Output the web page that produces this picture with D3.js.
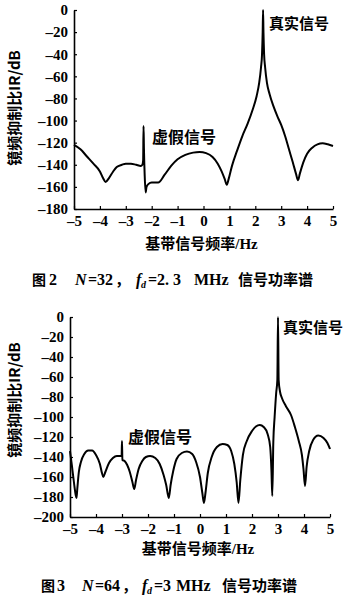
<!DOCTYPE html>
<html><head><meta charset="utf-8">
<script src="https://cdn.jsdelivr.net/npm/d3@7"></script>
<style>body{margin:0;background:#fff}svg{display:block}</style>
</head><body>
<script>
const xTicks = [-5,-4,-3,-2,-1,0,1,2,3,4,5];
const yTicks1 = [-180,-160,-140,-120,-100,-80,-60,-40,-20,0];
const yTicks2 = [-200,-180,-160,-140,-120,-100,-80,-60,-40,-20,0];

const freq1 = [-5,-4.75,-4.5,-4.25,-4.0,-3.88,-3.78,-3.65,-3.5,-3.35,-3.15,-3.0,-2.8,-2.6,-2.42,-2.36,-2.33,-2.315,-2.30,-2.27,-2.235,-2.2,-2.13,-2.0,-1.75,-1.5,-1.25,-1.0,-0.7,-0.4,-0.15,0.1,0.35,0.55,0.7,0.82,0.9,0.97,1.1,1.3,1.5,1.7,1.9,2.05,2.15,2.22,2.26,2.285,2.3,2.315,2.34,2.38,2.45,2.55,2.7,2.85,3.0,3.15,3.3,3.45,3.57,3.65,3.72,3.85,4.0,4.2,4.4,4.6,4.8,5.0];
const power1 = [-122,-126,-132.5,-139,-146,-152,-155.5,-152,-146.5,-142,-140,-139,-139,-140,-141,-140,-136,-105,-125,-150,-165,-160,-157.5,-156,-156,-149,-141,-135,-131,-129,-128.5,-129.5,-133,-139,-146,-153,-158,-153,-141,-127,-114,-103,-90,-78,-66,-52,-40,-20,0,-20,-40,-52,-66,-76,-87,-96,-104,-114,-126,-138,-148,-154,-148,-138,-130,-124.5,-121.5,-120.5,-121.5,-123];

const freq2 = [-5,-4.93,-4.85,-4.78,-4.75,-4.72,-4.66,-4.58,-4.45,-4.3,-4.15,-4.0,-3.85,-3.77,-3.72,-3.64,-3.5,-3.35,-3.2,-3.05,-3.015,-3.0,-2.985,-2.9,-2.8,-2.7,-2.6,-2.53,-2.46,-2.36,-2.22,-2.08,-1.92,-1.72,-1.55,-1.4,-1.3,-1.2,-1.13,-1.03,-0.9,-0.7,-0.5,-0.3,-0.15,0.0,0.09,0.15,0.21,0.3,0.45,0.65,0.87,1.05,1.2,1.32,1.41,1.48,1.55,1.65,1.8,2.0,2.15,2.3,2.45,2.6,2.7,2.75,2.78,2.82,2.87,2.93,2.975,3.0,3.025,3.08,3.15,3.3,3.5,3.65,3.8,3.92,3.98,4.04,4.1,4.2,4.35,4.55,4.75,4.9,5.0];
const power2 = [-134,-148,-165,-178,-181,-172,-155,-145,-137,-133.5,-133.5,-138,-147,-156,-160,-155,-146,-141,-139,-139,-139,-124,-143,-144,-148,-155,-165,-172,-163,-152,-144,-140,-139,-141,-147,-158,-168,-181,-168,-154,-142,-136,-134.5,-137,-145,-160,-176,-186,-176,-156,-140,-130,-127,-128,-134,-147,-165,-186,-163,-138,-124,-114,-109.5,-108,-110,-117,-130,-155,-179,-125,-100,-76,-63,0,-63,-75,-81,-89,-98,-110,-124,-138,-152,-169,-150,-134,-123,-118.5,-121,-126,-132];

const W = 350, H = 600;
const svg = d3.select("body").append("svg").attr("width", W).attr("height", H);
const serif = "'Liberation Serif','Times New Roman',serif";
const cjk = "'Noto Sans CJK SC','Noto Sans CJK JP',sans-serif";
const dash = d => d < 0 ? "\u2013" + Math.abs(d) : String(d);

function chart(cfg) {
  const x = d3.scaleLinear().domain([-5, 5]).range([cfg.x0, cfg.x1]);
  const y = d3.scaleLinear().domain([cfg.yMin, 0]).range([cfg.y0, cfg.y1]);
  const g = svg.append("g");

  const xa = g.append("g").attr("transform", `translate(0,${cfg.y0})`)
    .call(d3.axisBottom(x).tickValues(xTicks).tickSizeInner(-3).tickSizeOuter(0).tickPadding(6).tickFormat(dash));
  const ya = g.append("g").attr("transform", `translate(${cfg.x0},0)`)
    .call(d3.axisLeft(y).tickValues(cfg.yTicks).tickSizeInner(-3).tickSizeOuter(0).tickPadding(6).tickFormat(dash));
  [xa, ya].forEach(a => {
    a.select(".domain").attr("stroke", "#000").attr("stroke-width", 1.6);
    a.selectAll(".tick line").attr("stroke", "#000").attr("stroke-width", 1.2);
    a.selectAll("text").attr("fill", "#000").style("font-family", serif)
      .style("font-size", "15px").style("font-weight", "bold");
  });

  const pts = cfg.f.map((f, i) => [f, cfg.p[i]]);
  g.append("path").datum(pts)
    .attr("d", d3.line().x(d => x(d[0])).y(d => y(d[1])).curve(d3.curveMonotoneX))
    .attr("fill", "none").attr("stroke", "#000").attr("stroke-width", 2).attr("stroke-linejoin", "round");

  g.append("text").attr("x", cfg.realX).attr("y", cfg.realY).text("真实信号")
    .style("font-family", cjk).style("font-size", "15px").style("font-weight", "bold");
  g.append("text").attr("x", cfg.fakeX).attr("y", cfg.fakeY).text("虚假信号")
    .style("font-family", cjk).style("font-size", "16px").style("font-weight", "bold");

  const xt = g.append("text").attr("x", (cfg.x0 + cfg.x1) / 2 - 2).attr("y", cfg.xtY).attr("text-anchor", "middle")
    .style("font-family", cjk).style("font-size", "15px").style("font-weight", "bold");
  xt.append("tspan").text("基带信号频率");
  xt.append("tspan").style("font-family", serif).text("/Hz");
  g.append("text").attr("transform", `translate(20,${cfg.ytC}) rotate(-90)`).attr("text-anchor", "middle")
    .style("font-family", cjk).style("font-size", "15px").style("font-weight", "bold")
    .text("镜频抑制比IR/dB");

  const c = cfg.cap;
  const cap = g.append("g").style("font-weight", "bold");
  const t = (xp, txt, fam, size, italic) => cap.append("text").attr("x", xp).attr("y", cfg.capY)
    .style("font-family", fam).style("font-size", size + "px").style("font-style", italic ? "italic" : "normal").text(txt);
  t(c[0], "图", cjk, 14);
  t(c[1], String(cfg.fig), serif, 16);
  t(c[2], "N", serif, 16, true);
  t(c[3], "=" + cfg.n, serif, 16);
  t(c[3] + 27, "，", cjk, 15);
  t(c[4], "f", serif, 16, true);
  cap.append("text").attr("x", c[4] + 5).attr("y", cfg.capY + 3).style("font-family", serif)
    .style("font-size", "10px").style("font-style", "italic").text("d");
  t(c[5], "=" + cfg.fd, serif, 16);
  t(c[6], "MHz", serif, 16);
  t(c[7], "信号功率谱", cjk, 15);
}

chart({x0: 74, x1: 333, y0: 209, y1: 10, yMin: -180, yTicks: yTicks1, f: freq1, p: power1,
  realX: 269, realY: 29, fakeX: 152, fakeY: 143, xtY: 249, ytC: 108, capY: 285,
  cap: [32, 49, 75, 88, 136, 148, 194, 238], fig: 2, n: 32, fd: "2. 3"});
chart({x0: 70, x1: 330, y0: 517, y1: 317, yMin: -200, yTicks: yTicks2, f: freq2, p: power2,
  realX: 283, realY: 333, fakeX: 128, fakeY: 443, xtY: 554, ytC: 400, capY: 591,
  cap: [41, 57, 82, 95, 142, 154, 176, 222], fig: 3, n: 64, fd: "3"});
</script>
</body></html>
